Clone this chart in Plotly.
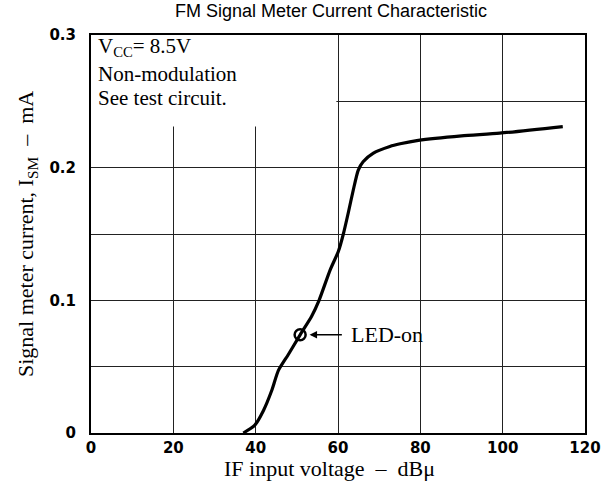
import plotly.graph_objects as go

# Data
if_input_dbu = [37.0, 39.8, 41.9, 43.9, 45.5, 47.9, 50.8, 53.6, 55.4, 58.1, 60.1, 61.3, 62.5,
                63.7, 64.9, 66.1, 68.6, 72.6, 75.1, 79.5, 90, 99.3, 114.6]
ism_ma = [0, 0.006, 0.017, 0.032, 0.047, 0.059, 0.074, 0.088, 0.100, 0.123, 0.137, 0.150,
          0.166, 0.183, 0.198, 0.2045, 0.211, 0.216, 0.218, 0.2206, 0.224, 0.226, 0.231]
led_on_x = [50.8]
led_on_y = [0.074]

x_tickvals = [0, 20, 40, 60, 80, 100, 120]
x_ticktext = ["0", "20", "40", "60", "80", "100", "120"]
y_tickvals = [0, 0.05, 0.1, 0.15, 0.2, 0.25, 0.3]
y_ticktext = ["0", "", "0.1", "", "0.2", "", "0.3"]

SERIF = "Liberation Serif, Times New Roman, serif"
L, R, T, B = 91, 16, 35, 53
W, H = 601, 486
PW, PH = W - L - R, H - T - B


def px(xp):
    return (xp - L) / PW


def py(yp):
    return (H - B - yp) / PH


fig = go.Figure()
fig.add_trace(go.Scatter(x=if_input_dbu, y=ism_ma, mode="lines",
                         line=dict(color="black", width=3.2, shape="spline", smoothing=0.6),
                         hoverinfo="skip", showlegend=False))
fig.add_trace(go.Scatter(x=led_on_x, y=led_on_y, mode="markers",
                         marker=dict(symbol="circle-open", size=11, color="black",
                                     line=dict(width=2.5, color="black")),
                         showlegend=False))

# white area behind the condition text (grid lines absent there)
fig.add_shape(type="rect", xref="x", yref="y", x0=0, x1=59.6, y0=0.231, y1=0.3,
              fillcolor="white", line=dict(width=0), layer="between")

fig.add_annotation(x=led_on_x[0] + 2.3, y=led_on_y[0], ax=61.3, ay=led_on_y[0],
                   xref="x", yref="y", axref="x", ayref="y",
                   showarrow=True, arrowhead=2, arrowsize=1, arrowwidth=1.5,
                   arrowcolor="black", text="")
fig.add_annotation(x=62.6, y=led_on_y[0], xref="x", yref="y", xanchor="left",
                   yanchor="middle", text="LED-on", showarrow=False,
                   font=dict(family=SERIF, size=22, color="black"))

cond_lines = ["V<sub>CC</sub>= 8.5V", "Non-modulation", "See test circuit."]
cond_y = [47, 74, 98]
for txt, yy in zip(cond_lines, cond_y):
    fig.add_annotation(x=px(96), y=py(yy), xref="paper", yref="paper",
                       xanchor="left", yanchor="middle", align="left", showarrow=False,
                       text=txt, font=dict(family=SERIF, size=21, color="black"))

fig.add_annotation(x=px(329), y=py(468), xref="paper", yref="paper",
                   xanchor="center", yanchor="middle",
                   showarrow=False, text="IF input voltage  –  dBμ",
                   font=dict(family=SERIF, size=22, color="black"))
fig.add_annotation(x=px(27), y=py(234), xref="paper", yref="paper",
                   xanchor="center", yanchor="middle",
                   showarrow=False, textangle=-90,
                   text="Signal meter current, I<sub>SM</sub>  –  mA",
                   font=dict(family=SERIF, size=22, color="black"))

fig.update_layout(
    width=W, height=H, autosize=False,
    margin=dict(l=L, r=R, t=T, b=B, pad=0),
    paper_bgcolor="white", plot_bgcolor="white",
    title=dict(text="FM Signal Meter Current Characteristic", x=331 / W, xanchor="center",
               y=1 - 11 / H, yanchor="middle",
               font=dict(family="Liberation Sans, Arial, sans-serif", size=18, color="black")),
    xaxis=dict(range=[0, 120], tickvals=x_tickvals, ticktext=x_ticktext,
               showgrid=True, gridcolor="#222", gridwidth=1.2, automargin=False,
               showline=True, mirror=True, linecolor="black", linewidth=2,
               ticks="", ticklen=0, zeroline=False,
               tickfont=dict(family="DejaVu Sans", size=15, color="black", weight="bold")),
    yaxis=dict(range=[0, 0.3], tickvals=y_tickvals, ticktext=y_ticktext,
               showgrid=True, gridcolor="#222", gridwidth=1.2, automargin=False,
               showline=True, mirror=True, linecolor="black", linewidth=2,
               ticks="", ticklen=0, zeroline=False, ticklabelstandoff=10,
               tickfont=dict(family="DejaVu Sans", size=15, color="black", weight="bold")),
)

fig.write_html(
    "out.html",
    config={"displayModeBar": False},
    post_script="document.body.style.margin='0';document.body.style.overflow='hidden';"
                "document.documentElement.style.overflow='hidden';",
)
